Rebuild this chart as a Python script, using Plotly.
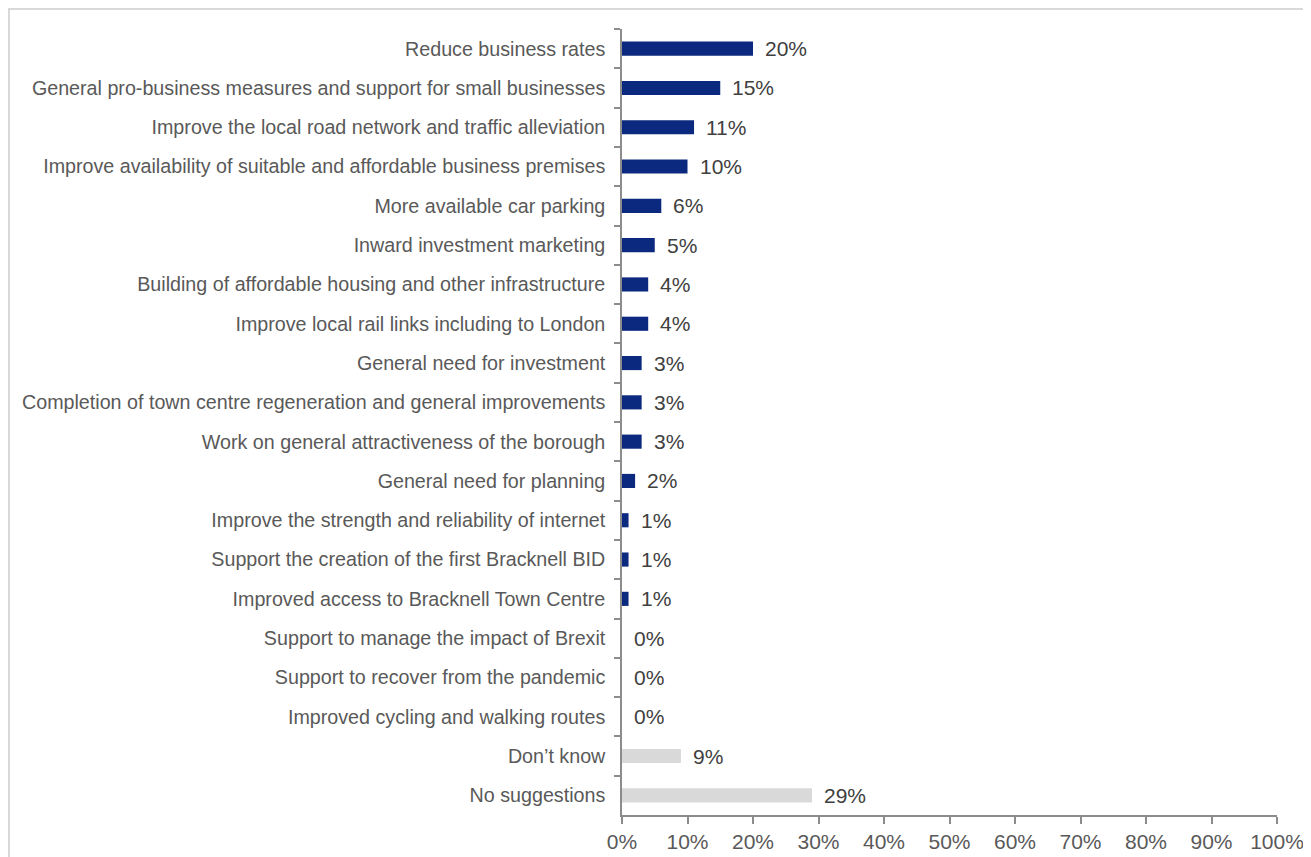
import plotly.graph_objects as go

categories = [
    "Reduce business rates",
    "General pro-business measures and support for small businesses",
    "Improve the local road network and traffic alleviation",
    "Improve availability of suitable and affordable business premises",
    "More available car parking",
    "Inward investment marketing",
    "Building of affordable housing and other infrastructure",
    "Improve local rail links including to London",
    "General need for investment",
    "Completion of town centre regeneration and general improvements",
    "Work on general attractiveness of the borough",
    "General need for planning",
    "Improve the strength and reliability of internet",
    "Support the creation of the first Bracknell BID",
    "Improved access to Bracknell Town Centre",
    "Support to manage the impact of Brexit",
    "Support to recover from the pandemic",
    "Improved cycling and walking routes",
    "Don\u2019t know",
    "No suggestions",
]
values = [20, 15, 11, 10, 6, 5, 4, 4, 3, 3, 3, 2, 1, 1, 1, 0, 0, 0, 9, 29]
grey_categories = ["Don\u2019t know", "No suggestions"]
x_ticks = [0, 10, 20, 30, 40, 50, 60, 70, 80, 90, 100]
x_tick_labels = [f"{t}%" for t in x_ticks]

BLUE = "#0B2A7F"
GREY = "#D9D9D9"
FONT = "Liberation Sans, Arial, sans-serif"
colors = [GREY if c in grey_categories else BLUE for c in categories]

fig = go.Figure()
fig.add_trace(go.Bar(
    y=categories,
    x=values,
    orientation="h",
    marker=dict(color=colors, line=dict(width=0)),
    width=0.36,
    hoverinfo="skip",
))

for c, v in zip(categories, values):
    fig.add_annotation(
        x=v, y=c, xref="x", yref="y",
        text=f"{v}%", showarrow=False,
        xanchor="left", yanchor="middle", xshift=10,
        font=dict(family=FONT, size=21, color="#404040"),
    )

fig.update_layout(
    width=1311, height=857,
    margin=dict(l=614, r=42, t=21, b=50),
    paper_bgcolor="white",
    plot_bgcolor="white",
    showlegend=False,
    font=dict(family=FONT, size=20, color="#595959"),
)
fig.update_xaxes(
    range=[0, 100],
    tickmode="array", tickvals=x_ticks, ticktext=x_tick_labels,
    showgrid=False, zeroline=False,
    showline=True, linecolor="#8C8C8C", linewidth=1.5,
    ticks="outside", ticklen=7, tickcolor="#8C8C8C", tickwidth=1.5,
    tickfont=dict(family=FONT, size=21, color="#595959"),
    fixedrange=True,
)
fig.update_yaxes(
    categoryorder="array", categoryarray=categories,
    autorange="reversed",
    showgrid=False, zeroline=False,
    showline=True, linecolor="#8C8C8C", linewidth=1.5,
    ticks="outside", ticklen=6, tickcolor="#8C8C8C", tickwidth=1.5,
    tickson="boundaries",
    ticklabelstandoff=11,
    tickfont=dict(family=FONT, size=19.7, color="#595959"),
    fixedrange=True,
)
# outer chart border (cropped at right/bottom)
fig.add_shape(
    type="rect", xref="paper", yref="paper",
    x0=-613 / 655, x1=1.2, y0=-0.2, y1=1 + 20 / 786,
    line=dict(color="#D9D9D9", width=2), fillcolor="rgba(0,0,0,0)", layer="below",
)
fig.write_html("out.html")
